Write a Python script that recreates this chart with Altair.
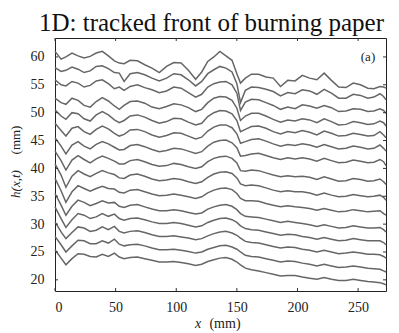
import altair as alt
import pandas as pd

x_mm = [0, 5, 9, 14, 19, 24, 29, 34, 39, 44, 49, 53, 57, 62, 68, 74, 80, 86, 92, 98,
        104, 110, 116, 121, 126, 131, 136, 141, 146, 150, 153, 157, 162, 168, 174, 180,
        186, 192, 198, 204, 210, 216, 222, 228, 234, 240, 246, 252, 258, 263, 268, 271, 273]

front_01 = [61.0, 59.6, 60.0, 60.7, 60.2, 59.8, 60.1, 60.7, 61.0, 60.2, 59.3, 58.9, 58.8, 59.4, 59.3, 58.6, 58.0, 57.2, 58.3, 59.0,
            58.9, 57.6, 56.0, 57.3, 59.2, 60.0, 61.0, 60.2, 59.4, 57.0, 55.3, 56.2, 56.9, 56.9, 56.4, 56.2,
            54.7, 55.8, 55.7, 56.7, 56.2, 55.9, 57.1, 55.8, 54.6, 54.5, 55.3, 55.0, 54.4, 54.3, 54.7, 54.6, 54.4]
front_02 = [58.1, 57.4, 57.6, 58.2, 57.8, 57.2, 57.5, 58.3, 58.4, 57.9, 57.2, 57.1, 55.6, 57.0, 57.2, 56.8, 56.2, 55.7, 56.2, 57.0,
            56.8, 55.9, 54.8, 55.6, 57.0, 57.7, 58.3, 58.0, 57.3, 55.2, 51.8, 54.0, 54.6, 54.5, 54.2, 53.8,
            53.0, 53.6, 53.4, 54.1, 53.9, 53.3, 54.2, 53.5, 52.6, 52.6, 53.3, 53.1, 52.6, 52.8, 53.4, 52.9, 52.3]
front_03 = [55.9, 55.0, 54.8, 55.6, 55.3, 54.6, 54.9, 55.7, 55.9, 55.2, 54.3, 54.6, 54.0, 54.7, 55.0, 54.5, 54.1, 53.6, 53.9, 54.6,
            54.4, 53.6, 52.8, 53.3, 54.6, 55.2, 55.5, 55.6, 55.0, 53.5, 50.4, 51.9, 52.4, 52.3, 51.8, 51.3,
            50.6, 51.0, 50.7, 51.4, 51.2, 50.8, 51.3, 50.9, 50.2, 50.3, 50.7, 50.6, 50.2, 50.3, 50.7, 50.4, 49.9]
front_04 = [52.6, 51.8, 51.5, 52.6, 52.2, 51.3, 51.0, 52.0, 52.7, 52.1, 51.2, 50.6, 51.3, 52.0, 52.1, 51.7, 51.0, 50.7, 51.1, 51.6,
            51.4, 50.9, 50.2, 50.6, 51.8, 52.6, 52.9, 52.8, 52.2, 50.8, 48.6, 49.4, 49.9, 49.9, 49.4, 48.8,
            48.3, 48.7, 48.5, 48.9, 48.7, 48.2, 48.9, 48.4, 47.8, 47.9, 48.4, 48.2, 47.9, 48.0, 48.5, 48.2, 47.6]
front_05 = [50.5, 49.4, 48.8, 50.0, 49.8, 48.9, 48.5, 49.6, 50.2, 49.6, 48.7, 48.2, 48.6, 49.4, 49.6, 49.2, 48.6, 48.1, 48.4, 49.0,
            48.9, 48.3, 47.8, 48.1, 49.3, 50.0, 50.4, 50.3, 49.8, 48.6, 46.6, 47.0, 47.5, 47.6, 47.2, 46.6,
            46.2, 46.6, 46.4, 46.8, 46.5, 46.0, 46.7, 46.3, 45.8, 45.9, 46.3, 46.1, 45.8, 45.9, 46.6, 46.0, 45.5]
front_06 = [48.1, 46.8, 45.8, 47.2, 47.5, 46.6, 46.1, 47.0, 47.6, 47.1, 46.3, 45.8, 46.1, 46.9, 47.0, 46.6, 46.0, 45.6, 45.9, 46.4,
            46.3, 45.8, 45.3, 45.6, 46.7, 47.4, 47.8, 47.8, 47.3, 46.2, 44.5, 44.8, 45.2, 45.3, 44.9, 44.4,
            44.0, 44.3, 44.1, 44.4, 44.2, 43.8, 44.3, 43.9, 43.5, 43.6, 44.0, 43.8, 43.5, 43.6, 44.2, 43.6, 43.1]
front_07 = [45.5, 44.0, 42.6, 44.2, 44.8, 44.0, 43.5, 44.3, 44.8, 44.4, 43.8, 43.3, 43.4, 44.1, 44.3, 43.9, 43.4, 43.0, 43.2, 43.6,
            43.5, 43.1, 42.7, 43.0, 44.0, 44.7, 45.0, 45.1, 44.6, 43.7, 42.2, 42.3, 42.6, 42.7, 42.3, 41.9,
            41.6, 41.9, 41.7, 41.9, 41.7, 41.3, 41.8, 41.4, 41.0, 41.1, 41.5, 41.3, 41.0, 41.1, 41.6, 41.2, 40.5]
front_08 = [43.1, 41.4, 39.7, 41.5, 42.3, 41.6, 41.0, 41.7, 42.2, 41.8, 41.3, 40.8, 40.8, 41.4, 41.6, 41.2, 40.7, 40.4, 40.5, 40.9,
            40.7, 40.3, 40.0, 40.3, 41.2, 41.8, 42.1, 42.2, 41.8, 41.0, 39.6, 39.5, 39.7, 39.6, 39.2, 38.8,
            38.5, 38.7, 38.5, 38.6, 38.4, 38.0, 38.5, 38.1, 37.7, 37.8, 38.2, 38.0, 37.7, 37.8, 38.1, 37.6, 37.1]
front_09 = [40.8, 38.8, 36.6, 38.6, 39.6, 39.0, 38.5, 39.1, 39.6, 39.2, 38.9, 38.3, 38.2, 38.8, 39.0, 38.6, 38.1, 37.8, 37.9, 38.2,
            38.0, 37.6, 37.3, 37.6, 38.4, 39.0, 39.3, 39.4, 39.1, 38.3, 37.2, 36.9, 37.0, 36.9, 36.5, 36.1,
            35.8, 36.0, 35.8, 35.8, 35.6, 35.2, 35.6, 35.2, 34.9, 35.0, 35.3, 35.1, 34.9, 35.0, 35.2, 34.8, 34.3]
front_10 = [38.2, 36.0, 33.9, 35.8, 36.9, 36.4, 35.9, 36.4, 36.8, 36.4, 36.3, 35.7, 35.6, 36.1, 36.2, 35.8, 35.4, 35.1, 35.2, 35.4,
            35.2, 34.9, 34.6, 34.9, 35.6, 36.1, 36.4, 36.5, 36.2, 35.5, 34.6, 34.2, 34.2, 34.1, 33.7, 33.4,
            33.1, 33.3, 33.1, 33.0, 32.8, 32.5, 32.8, 32.5, 32.2, 32.3, 32.6, 32.4, 32.2, 32.3, 32.4, 31.9, 31.6]
front_11 = [35.5, 33.4, 31.6, 33.2, 34.3, 33.9, 33.3, 33.7, 34.2, 33.8, 33.9, 33.2, 33.0, 33.4, 33.5, 33.1, 32.7, 32.4, 32.4, 32.6,
            32.4, 32.1, 31.8, 32.0, 32.7, 33.1, 33.4, 33.5, 33.2, 32.6, 31.9, 31.4, 31.3, 31.2, 30.9, 30.6,
            30.3, 30.5, 30.3, 30.1, 29.9, 29.6, 29.9, 29.6, 29.3, 29.4, 29.7, 29.5, 29.3, 29.3, 29.4, 29.0, 28.6]
front_12 = [33.1, 31.0, 29.4, 30.8, 31.9, 31.6, 31.0, 31.3, 31.9, 31.4, 31.8, 31.0, 30.7, 31.0, 31.1, 30.8, 30.4, 30.1, 30.1, 30.3,
            30.1, 29.8, 29.5, 29.7, 30.3, 30.7, 31.0, 31.1, 30.8, 30.3, 29.7, 29.2, 29.0, 28.9, 28.6, 28.3,
            28.0, 28.2, 28.1, 27.8, 27.6, 27.3, 27.6, 27.3, 27.0, 27.1, 27.4, 27.2, 27.0, 27.0, 27.0, 26.7, 26.3]
front_13 = [30.4, 28.6, 27.4, 28.5, 29.5, 29.3, 28.7, 28.9, 29.5, 29.0, 29.6, 28.7, 28.4, 28.7, 28.8, 28.5, 28.1, 27.8, 27.8, 27.9,
            27.7, 27.5, 27.2, 27.4, 27.9, 28.3, 28.6, 28.7, 28.4, 28.0, 27.5, 26.9, 26.7, 26.6, 26.3, 26.0,
            25.7, 25.9, 25.8, 25.5, 25.3, 25.0, 25.3, 25.0, 24.7, 24.8, 25.0, 24.8, 24.6, 24.6, 24.5, 24.2, 23.9]
front_14 = [27.8, 26.3, 25.0, 26.1, 27.1, 27.0, 26.5, 26.5, 27.0, 26.6, 27.3, 26.4, 26.1, 26.3, 26.4, 26.1, 25.7, 25.4, 25.4, 25.5,
            25.3, 25.1, 24.8, 25.0, 25.5, 25.8, 26.1, 26.2, 25.9, 25.5, 25.0, 24.4, 24.2, 24.1, 23.8, 23.5,
            23.2, 23.4, 23.3, 23.0, 22.8, 22.5, 22.8, 22.5, 22.2, 22.3, 22.5, 22.3, 22.1, 22.0, 21.9, 21.6, 21.4]
front_15 = [25.4, 23.9, 22.7, 23.8, 24.7, 24.6, 24.2, 24.1, 24.6, 24.2, 24.8, 24.1, 23.8, 24.0, 24.1, 23.8, 23.5, 23.2, 23.2, 23.3,
            23.1, 22.9, 22.6, 22.8, 23.3, 23.6, 23.9, 24.0, 23.7, 23.2, 22.7, 22.1, 21.8, 21.6, 21.3, 21.0,
            20.7, 20.8, 20.8, 20.5, 20.3, 20.1, 20.4, 20.1, 19.9, 19.9, 20.1, 19.9, 19.7, 19.6, 19.5, 19.3, 19.1]

fronts = [front_01, front_02, front_03, front_04, front_05, front_06, front_07, front_08,
          front_09, front_10, front_11, front_12, front_13, front_14, front_15]

x_ticks = [0, 50, 100, 150, 200, 250]
y_ticks = [20, 25, 30, 35, 40, 45, 50, 55, 60]

rows = []
for i, ys in enumerate(fronts):
    for xv, yv in zip(x_mm, ys):
        rows.append({"front": i, "x": xv, "h": yv})
df = pd.DataFrame(rows)

W, H = 331, 253
FONT = "Liberation Serif"
xscale = alt.Scale(domain=[0, 273], nice=False, zero=False)
yscale = alt.Scale(domain=[18, 63.4], nice=False, zero=False)
x_axis = alt.Axis(values=x_ticks, title=None, ticks=False, domain=False, grid=False,
                  labelPadding=9, labelFont=FONT, labelFontSize=14, labelColor="#222")
y_axis = alt.Axis(values=y_ticks, title=None, ticks=False, domain=False, grid=False,
                  labelPadding=11, labelFont=FONT, labelFontSize=14, labelColor="#222")

lines = alt.Chart(df).mark_line(color="#666666", strokeWidth=1.5).encode(
    x=alt.X("x:Q", scale=xscale, axis=x_axis),
    y=alt.Y("h:Q", scale=yscale, axis=y_axis),
    detail="front:N",
)

xt = pd.DataFrame({"t": x_ticks})
yt = pd.DataFrame({"t": y_ticks})
tick_bottom = alt.Chart(xt).mark_rule(color="#333").encode(
    x=alt.X("t:Q", scale=xscale, axis=x_axis), y=alt.value(H), y2=alt.value(H - 3))
tick_top = alt.Chart(xt).mark_rule(color="#333").encode(
    x=alt.X("t:Q", scale=xscale, axis=x_axis), y=alt.value(0), y2=alt.value(3))
tick_left = alt.Chart(yt).mark_rule(color="#333").encode(
    y=alt.Y("t:Q", scale=yscale, axis=y_axis), x=alt.value(0), x2=alt.value(3))
tick_right = alt.Chart(yt).mark_rule(color="#333").encode(
    y=alt.Y("t:Q", scale=yscale, axis=y_axis), x=alt.value(W), x2=alt.value(W - 3))

def label(text, px, py, italic=False, size=14, angle=0):
    return alt.Chart(pd.DataFrame({"s": [text]})).mark_text(
        font=FONT, fontSize=size, fontStyle="italic" if italic else "normal",
        color="#222", align="center", baseline="middle", angle=angle,
    ).encode(text="s:N", x=alt.value(px), y=alt.value(py))

panel = label("(a)", 313, 18.5, size=13)
xlab1 = label("x", 143, 286, italic=True)
xlab2 = label("(mm)", 170, 286)
ylab1 = label("h(x,t)", -39, 146, italic=True, size=13, angle=270)
ylab2 = label("(mm)", -39, 102, size=13, angle=270)

chart = alt.layer(
    lines, tick_bottom, tick_top, tick_left, tick_right, panel, xlab1, xlab2, ylab1, ylab2
).properties(
    width=W, height=H,
    title=alt.TitleParams("1D: tracked front of burning paper", font=FONT, fontSize=25,
                          fontWeight="normal", color="#111", anchor="middle", offset=2, dx=-9),
    autosize=alt.AutoSizeParams(type="none"),
    padding={"left": 47, "top": 30, "right": 5, "bottom": 42},
).configure_view(stroke="#222", strokeWidth=1)

chart.save("out.html", embed_options={"renderer": "svg", "actions": False})
